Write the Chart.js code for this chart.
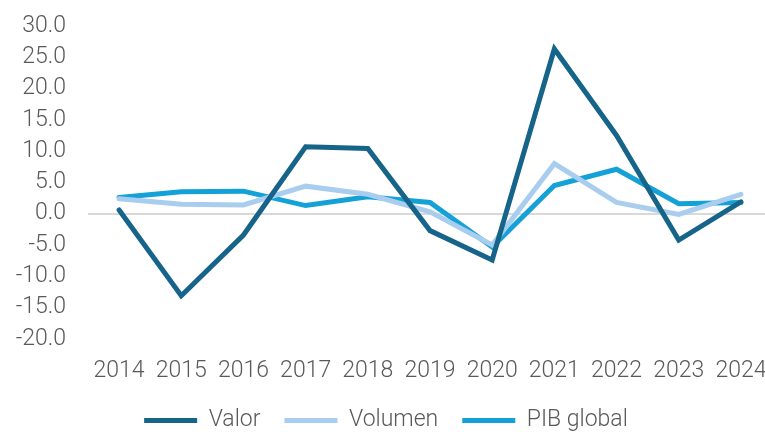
<!DOCTYPE html>
<html>
<head>
<meta charset="utf-8">
<script src="https://cdn.jsdelivr.net/npm/chart.js@4"></script>
<style>
  html, body { margin: 0; padding: 0; background: #fff; overflow: hidden; }
  #wrap { width: 772px; height: 442px; margin-top: -10px; }
</style>
</head>
<body>
<div id="wrap"><canvas id="chart"></canvas></div>
<script>
// Categories and series
const years = ['2014', '2015', '2016', '2017', '2018', '2019', '2020', '2021', '2022', '2023', '2024'];
const valor = [0.6, -13.1, -3.4, 10.7, 10.4, -2.7, -7.4, 26.3, 12.5, -4.2, 1.9];
const volumen = [2.4, 1.5, 1.4, 4.4, 3.1, 0.3, -5.0, 8.0, 1.8, -0.1, 3.1];
const pibGlobal = [2.6, 3.5, 3.6, 1.3, 2.7, 1.8, -5.3, 4.5, 7.1, 1.6, 1.8];
const yTicks = [-20, -15, -10, -5, 0, 5, 10, 15, 20, 25, 30];

const textColor = '#595959';
const baseFont = { family: 'Roboto', weight: 300, size: 23 };

function lineDataset(label, data, color) {
    return {
        label: label,
        data: data,
        borderColor: color,
        backgroundColor: color,
        borderWidth: 5,
        borderCapStyle: 'round',
        borderJoinStyle: 'miter',
        pointRadius: 0,
        pointHoverRadius: 0,
        tension: 0,
        fill: false
    };
}

new Chart(document.getElementById('chart'), {
    type: 'line',
    data: {
        labels: years,
        datasets: [
            lineDataset('Valor', valor, '#17648A'),
            lineDataset('Volumen', volumen, '#A9CDEE'),
            lineDataset('PIB global', pibGlobal, '#14A1D8')
        ]
    },
    options: {
        responsive: true,
        maintainAspectRatio: false,
        animation: false,
        layout: {
            padding: { top: 0, right: 0, bottom: -10, left: 0 }
        },
        plugins: {
            legend: {
                position: 'bottom',
                labels: {
                    usePointStyle: true,
                    pointStyle: 'line',
                    pointStyleWidth: 53,
                    boxHeight: 5,
                    padding: 24,
                    color: textColor,
                    font: baseFont
                }
            },
            tooltip: { enabled: false }
        },
        scales: {
            x: {
                offset: true,
                grid: { display: false, drawTicks: false },
                border: { display: false },
                afterFit: function(scale) {
                    scale.paddingLeft = 0;
                    scale.paddingRight = 0;
                    scale.height = 46;
                },
                ticks: {
                    color: textColor,
                    font: baseFont,
                    maxRotation: 0,
                    autoSkip: false,
                    padding: 18
                }
            },
            y: {
                min: -20,
                max: 30,
                afterFit: function(scale) { scale.width = 88; },
                afterBuildTicks: function(scale) {
                    scale.ticks = yTicks.map(v => ({ value: v }));
                },
                grid: {
                    drawTicks: false,
                    lineWidth: 2,
                    color: ctx => ctx.tick && ctx.tick.value === 0 ? '#D9D9D9' : 'rgba(0,0,0,0)'
                },
                border: { display: false },
                ticks: {
                    color: textColor,
                    font: baseFont,
                    padding: 22,
                    autoSkip: false,
                    callback: value => value.toFixed(1)
                }
            }
        }
    }
});
</script>
</body>
</html>
